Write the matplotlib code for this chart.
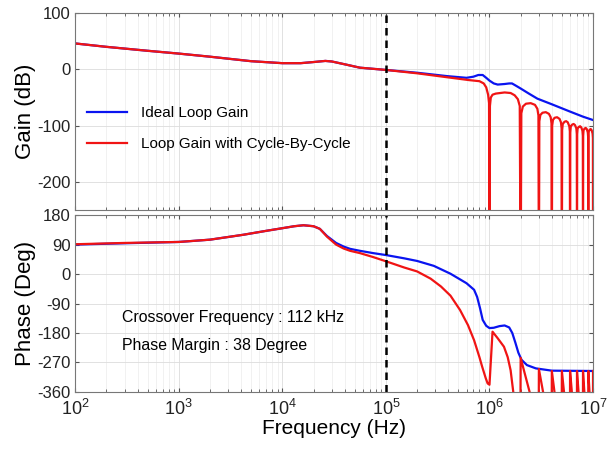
import numpy as np
import matplotlib
matplotlib.use("Agg")
from matplotlib import pyplot as plt
from matplotlib.ticker import LogLocator, NullFormatter

plt.rcParams['font.family'] = ['Liberation Sans', 'DejaVu Sans']
plt.rcParams['mathtext.fontset'] = 'custom'
plt.rcParams['mathtext.rm'] = 'Liberation Sans'
plt.rcParams['axes.unicode_minus'] = False

# ---- data ----
# gain, ideal loop (Hz, dB)
f_gain_ideal = [1e2, 2e2, 5e2, 1e3, 2e3, 5e3, 1e4, 1.5e4, 2e4, 2.6e4, 3e4, 4e4, 5.6e4,
                1e5, 2e5, 3.9e5, 6e5, 7e5, 7.8e5, 8.6e5, 9.3e5, 1e6, 1.1e6, 1.2e6,
                1.4e6, 1.55e6, 1.65e6, 1.8e6, 2e6, 2.4e6, 2.9e6, 4e6, 6e6, 8e6, 1e7]
g_ideal = [46, 40, 33, 28, 22.5, 14.5, 11, 11, 13, 15, 14, 9, 3,
           -1, -6, -12, -15, -13, -10, -10, -15, -20, -25, -27,
           -26, -25, -25, -29, -34, -43, -52, -62, -75, -84, -90]

# gain with cycle-by-cycle (Hz, dB); notches go far below the axis
f_gain_cbc = [1e2, 2e2, 5e2, 1e3, 2e3, 5e3, 1e4, 1.5e4, 2e4, 2.6e4, 3e4, 4e4, 5.6e4,
              1e5, 2e5, 3.9e5, 6.3e5, 8e5, 8.8e5, 9.3e5, 9.7e5, 9.9e5, 1e6,
              1.01e6, 1.03e6, 1.07e6, 1.15e6, 1.4e6, 1.6e6, 1.75e6, 1.88e6, 1.96e6, 2e6,
              2.03e6, 2.1e6, 2.25e6, 2.5e6, 2.75e6, 2.9e6, 2.97e6, 3e6,
              3.03e6, 3.1e6, 3.25e6, 3.5e6, 3.75e6, 3.9e6, 3.97e6, 4e6,
              4.03e6, 4.1e6, 4.25e6, 4.5e6, 4.75e6, 4.9e6, 4.97e6, 5e6,
              5.03e6, 5.1e6, 5.3e6, 5.5e6, 5.7e6, 5.9e6, 5.97e6, 6e6,
              6.03e6, 6.1e6, 6.3e6, 6.5e6, 6.7e6, 6.9e6, 6.97e6, 7e6,
              7.03e6, 7.1e6, 7.3e6, 7.5e6, 7.7e6, 7.9e6, 7.97e6, 8e6,
              8.03e6, 8.1e6, 8.3e6, 8.5e6, 8.7e6, 8.9e6, 8.97e6, 9e6,
              9.03e6, 9.1e6, 9.3e6, 9.5e6, 9.7e6, 9.9e6, 9.97e6, 1e7]
g_cbc = [46, 40, 33, 28, 22.5, 14.5, 11, 11, 13, 15, 14, 9, 3,
         -1, -7, -14, -19, -21, -25, -32, -45, -60, -400,
         -65, -50, -45, -43, -41, -42, -46, -53, -65, -400,
         -78, -66, -61, -60, -63, -70, -82, -400,
         -92, -81, -77, -76, -79, -85, -96, -400,
         -100, -90, -86, -85, -88, -94, -105, -400,
         -108, -97, -93, -92, -94, -101, -110, -400,
         -112, -101, -98, -97, -99, -105, -115, -400,
         -115, -105, -102, -101, -103, -109, -118, -400,
         -118, -108, -105, -104, -106, -112, -120, -400,
         -120, -110, -107, -106, -108, -114, -122, -400]

# phase, ideal loop (Hz, deg)
f_phase_ideal = [1e2, 3e2, 1e3, 2e3, 4.2e3, 7e3, 1e4, 1.3e4, 1.6e4, 2e4, 2.3e4, 2.7e4,
                 3.3e4, 3.9e4, 4.5e4, 5.6e4, 7.5e4, 1e5, 1.5e5, 2e5, 2.9e5, 4.2e5,
                 6e5, 7.1e5, 7.6e5, 8.1e5, 8.6e5, 9.3e5, 1e6, 1.1e6, 1.25e6, 1.4e6,
                 1.55e6, 1.66e6, 1.78e6, 1.9e6, 2.04e6, 2.3e6, 2.8e6, 4e6, 1e7]
p_ideal = [90, 94, 98, 105, 120, 132, 140, 146, 149, 146, 138, 116,
           95, 84, 77, 71, 64, 58, 48, 40, 25, 1,
           -28, -48, -70, -104, -140, -158, -165, -164, -159, -157,
           -163, -180, -210, -240, -262, -278, -288, -295, -296]

# phase with cycle-by-cycle (Hz, deg); wraps below -360 between spikes
f_phase_cbc = [1e2, 3e2, 1e3, 2e3, 4.2e3, 7e3, 1e4, 1.3e4, 1.6e4, 2e4, 2.3e4, 2.7e4,
               3.3e4, 3.9e4, 4.5e4, 5.6e4, 7.5e4, 1e5, 1.5e5, 2e5, 2.7e5, 3.4e5,
               4.2e5, 5.2e5, 6.2e5, 7.1e5, 8e5, 8.5e5, 9.2e5, 9.6e5, 1e6,
               1.07e6, 1.2e6, 1.38e6, 1.5e6, 1.6e6, 1.7e6, 1.99e6, 2e6, 2.45e6,
               2.99e6, 3e6, 3.3e6, 3.99e6, 4e6, 4.25e6, 4.99e6, 5e6, 5.25e6,
               5.99e6, 6e6, 6.25e6, 6.99e6, 7e6, 7.25e6, 7.99e6, 8e6, 8.25e6,
               8.99e6, 9e6, 9.25e6, 9.99e6, 1e7]
p_cbc = [91, 95, 98, 105, 120, 132, 140, 146, 149, 146, 138, 114,
         90, 78, 71, 64, 52, 39, 20, 8, -14, -38,
         -66, -110, -156, -202, -254, -283, -318, -334, -338,
         -176, -196, -222, -254, -294, -362, -420, -256, -362,
         -420, -290, -362, -420, -296, -362, -420, -296, -362,
         -420, -296, -362, -420, -296, -362, -420, -296, -362,
         -420, -296, -362, -420, -296]

crossover_hz = 1e5
gain_ticks = [100, 0, -100, -200]
phase_ticks = [180, 90, 0, -90, -180, -270, -360]
legend_labels = ['Ideal Loop Gain', 'Loop Gain with Cycle-By-Cycle']
notes = ['Crossover Frequency : 112 kHz', 'Phase Margin : 38 Degree']

blue = '#0a14f0'
red = '#f01414'

fig = plt.figure(figsize=(6.07, 4.5), dpi=100)
ax1 = fig.add_axes([0.124, 0.533, 0.853, 0.438])
ax2 = fig.add_axes([0.124, 0.129, 0.853, 0.393])

def style(ax):
    ax.set_xscale('log')
    ax.set_xlim(1e2, 1e7)
    ax.xaxis.set_major_locator(LogLocator(base=10, numticks=10))
    ax.xaxis.set_minor_locator(LogLocator(base=10, subs=np.arange(2, 10), numticks=100))
    ax.xaxis.set_minor_formatter(NullFormatter())
    ax.grid(True, which='major', color='#dcdcdc', lw=0.6)
    ax.grid(True, which='minor', axis='x', color='#ececec', lw=0.5)
    ax.tick_params(which='both', direction='in', top=True, right=True, colors='#555555',
                   labelcolor='#222222')
    ax.tick_params(which='major', length=3)
    ax.tick_params(which='minor', length=2)
    for s in ax.spines.values():
        s.set_color('#777777')
        s.set_linewidth(0.8)
    ax.set_axisbelow(True)

style(ax1)
style(ax2)

# gain
ax1.plot(f_gain_ideal, g_ideal, color=blue, lw=1.6, label=legend_labels[0])
ax1.plot(f_gain_cbc, g_cbc, color=red, lw=1.6, label=legend_labels[1])
ax1.axvline(crossover_hz, color='black', ls=(0, (3, 2)), lw=1.8)
ax1.set_ylim(-250, 100)
ax1.set_yticks(gain_ticks)
ax1.tick_params(axis='x', labelbottom=False)
ax1.tick_params(axis='y', labelsize=12)
ax1.set_ylabel('Gain (dB)', fontsize=16, labelpad=1)
ax1.legend(loc='upper left', bbox_to_anchor=(0.0, 0.59), frameon=False, fontsize=11,
           handlelength=2.6, labelspacing=1.1, handletextpad=0.9, borderaxespad=0.4)

# phase
ax2.plot(f_phase_ideal, p_ideal, color=blue, lw=1.6)
ax2.plot(f_phase_cbc, p_cbc, color=red, lw=1.6)
ax2.axvline(crossover_hz, color='black', ls=(0, (3, 2)), lw=1.8)
ax2.set_ylim(-360, 180)
ax2.set_yticks(phase_ticks)
ax2.tick_params(axis='y', labelsize=12)
ax2.tick_params(axis='x', labelsize=13, pad=5)
ax2.set_ylabel('Phase (Deg)', fontsize=16, labelpad=1)
ax2.set_xlabel('Frequency (Hz)', fontsize=15, labelpad=0)
ax2.text(0.09, 0.42, notes[0], transform=ax2.transAxes, fontsize=11.4, va='center')
ax2.text(0.09, 0.26, notes[1], transform=ax2.transAxes, fontsize=11.4, va='center')

fig.savefig('out.png', dpi=100)
